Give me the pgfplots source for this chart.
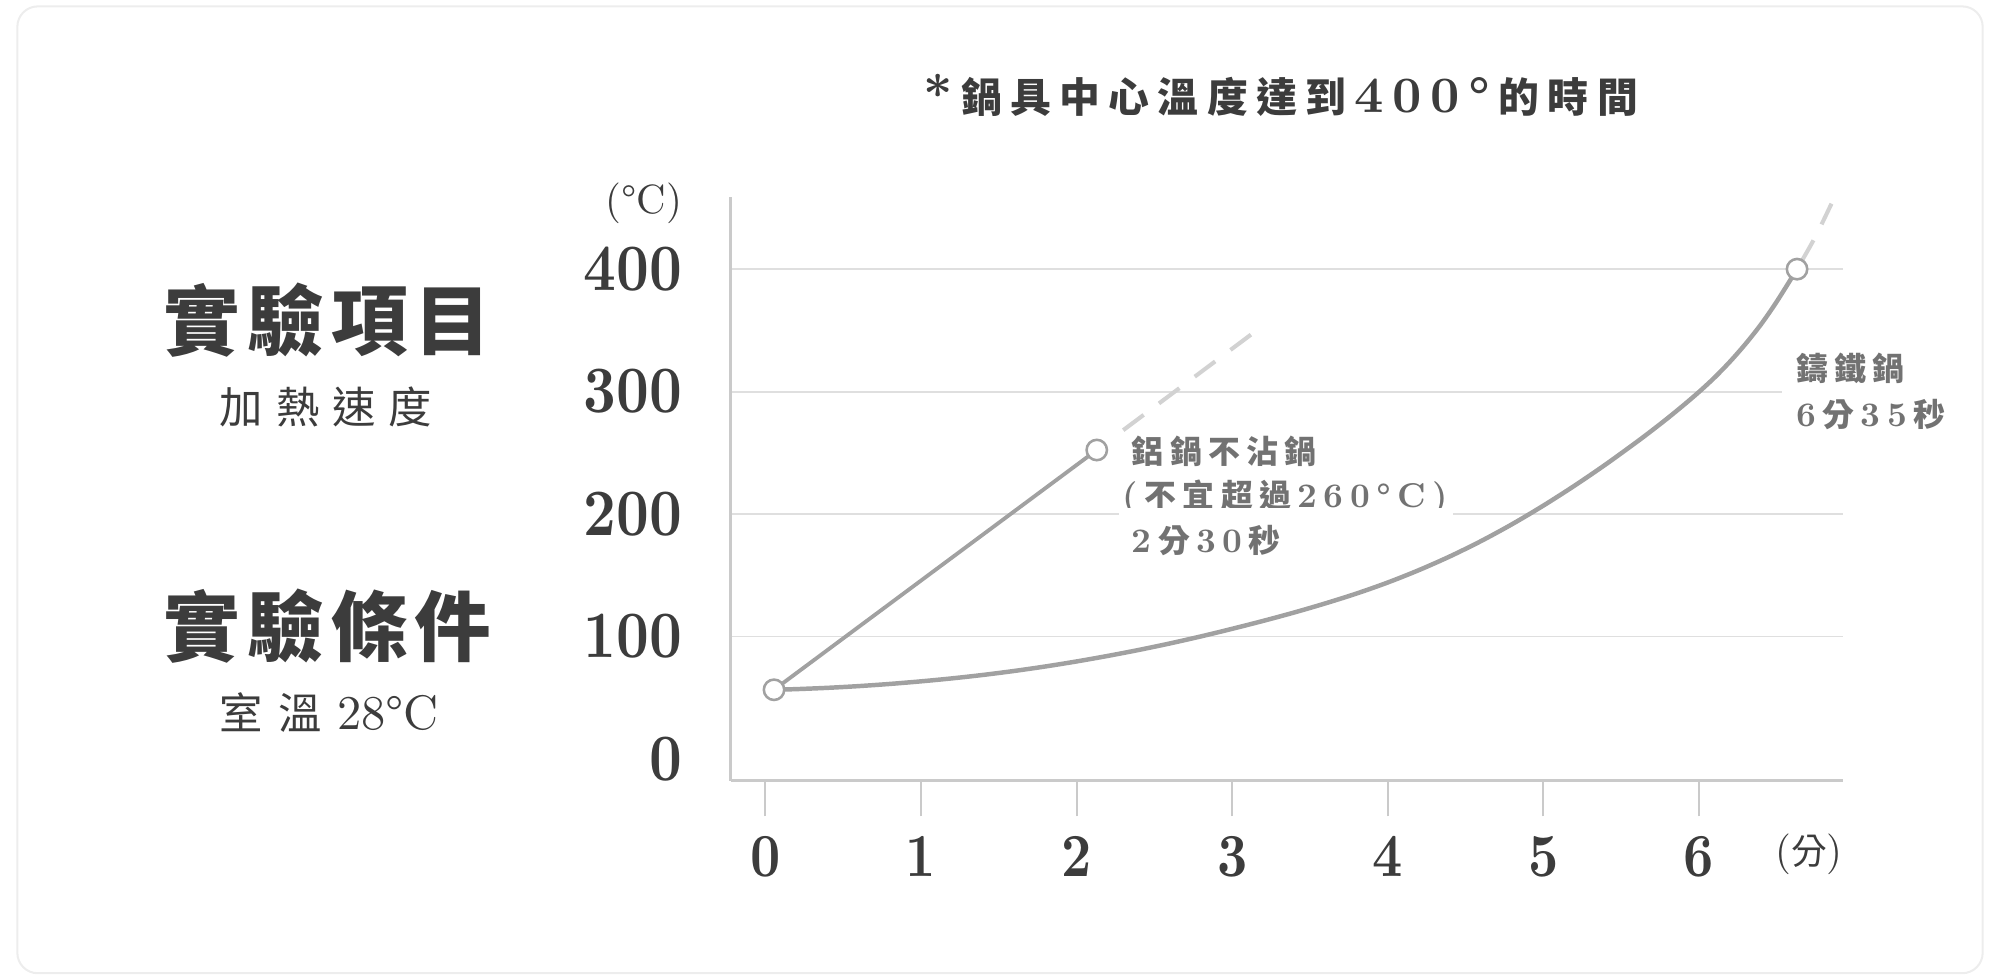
\documentclass[border=0pt]{standalone}
\usepackage{graphicx}
\usepackage{pgfplots}
\pgfplotsset{compat=1.18}
\usepackage{fontspec}
\newfontfamily\cjk{Noto Sans CJK TC}
\newfontfamily\lmb[Extension=.otf,UprightFont=*-bold]{lmroman10}
\newfontfamily\lmr[Extension=.otf,UprightFont=*-regular]{lmroman10}
\definecolor{txt}{HTML}{3C3C3C}
\definecolor{ann}{HTML}{727272}
\definecolor{curvec}{HTML}{A1A1A1}
\definecolor{dashc}{HTML}{D2D2D2}
\definecolor{axisc}{HTML}{CACACA}
\definecolor{gridc}{HTML}{DFDFDF}
\definecolor{framec}{HTML}{EDEDED}
\newcommand\C[1]{{\cjk\bfseries #1}}
\newcommand\Cr[1]{{\cjk #1}}
\newcommand\N[1]{{\lmb #1}}
\newcommand\R[1]{{\lmr #1}}
\def\G{2.5pt}
\newcommand\g{\hspace{\G}}
\newcommand\sx[1]{\scalebox{0.86}[1]{#1}}
\pgfplotstableread{
x y
0.056 56.5
0.2 57.03
0.4 58.08
0.6 59.49
0.8 61.26
1.0 63.37
1.2 65.81
1.4 68.63
1.6 71.87
1.8 75.53
2.0 79.63
2.2 84.13
2.4 89.03
2.6 94.34
2.8 100.1
3.0 106.27
3.2 112.77
3.4 119.65
3.6 127.09
3.8 135.12
4.0 144.11
4.2 154.22
4.4 165.46
4.6 177.97
4.8 191.8
5.0 206.91
5.2 223.16
5.4 240.49
5.6 258.9
5.7 268.5
5.8 278.45
5.9 288.85
6.0 299.75
6.1 311.5
6.2 324.6
6.3 339.1
6.4 355.2
6.5 373.6
6.63 400
}\castiron
\begin{document}
\begin{tikzpicture}
\useasboundingbox (0,0) rectangle (784pt,384pt);
\draw[framec, line width=0.8pt, rounded corners=8pt] (6.8pt,2.5pt) rectangle (777.2pt,381.5pt);
% title
\node[anchor=base, text=txt, inner sep=0pt, font=\fontsize{16pt}{16pt}\selectfont] at (502pt,340pt)
 {\def\G{3.3pt}{\fontsize{20pt}{20pt}\selectfont\N{*}}\g\C{鍋}\g\C{具}\g\C{中}\g\C{心}\g\C{溫}\g\C{度}\g\C{達}\g\C{到}\g{\fontsize{20pt}{20pt}\selectfont\N{4}\g\N{0}\g\N{0}\g\N{°}}\g\C{的}\g\C{時}\g\C{間}};
% left block
\node[anchor=base west, text=txt, inner sep=0pt, font=\fontsize{30pt}{30pt}\selectfont] at (64pt,247.1pt)
 {\def\G{2.8pt}\C{實}\g\C{驗}\g\C{項}\g\C{目}};
\node[anchor=base west, text=txt, inner sep=0pt, font=\fontsize{17pt}{17pt}\selectfont] at (86pt,218pt)
 {\def\G{5pt}\Cr{加}\g\Cr{熱}\g\Cr{速}\g\Cr{度}};
\node[anchor=base west, text=txt, inner sep=0pt, font=\fontsize{30pt}{30pt}\selectfont] at (64pt,127.1pt)
 {\def\G{2.8pt}\C{實}\g\C{驗}\g\C{條}\g\C{件}};
\node[anchor=base west, text=txt, inner sep=0pt, font=\fontsize{17pt}{17pt}\selectfont] at (86pt,98pt)
 {\Cr{室}\hspace{6pt}\Cr{溫}\hspace{6pt}{\fontsize{19pt}{19pt}\selectfont\R{28°C}}};
% units
\node[anchor=base east, text=txt, inner sep=0pt, font=\fontsize{16pt}{16pt}\selectfont] at (267.5pt,300.5pt) {\R{(°C)}};
\node[anchor=base east, text=txt, inner sep=0pt, font=\fontsize{16pt}{16pt}\selectfont] at (722.5pt,45pt) {\R{(}{\fontsize{14pt}{14pt}\selectfont\Cr{分}}\R{)}};
% annotations
\begin{scope}[every node/.style={anchor=base west, text=ann, inner sep=0pt, font=\fontsize{12.5pt}{12.5pt}\selectfont}]
\node at (443.5pt,202.2pt) {\C{鋁}\g\C{鍋}\g\C{不}\g\C{沾}\g\C{鍋}};
\node at (440pt,185.25pt) {\fontsize{13.5pt}{13.5pt}\selectfont\N{(}\g\C{\fontsize{12.5pt}{12.5pt}\selectfont 不}\g\C{\fontsize{12.5pt}{12.5pt}\selectfont 宜}\g\C{\fontsize{12.5pt}{12.5pt}\selectfont 超}\g\C{\fontsize{12.5pt}{12.5pt}\selectfont 過}\g\N{2}\g\N{6}\g\N{0}\g\N{°}\g\N{C}\g\N{)}};
\node at (443.5pt,167.25pt) {\N{\fontsize{13.5pt}{13.5pt}\selectfont 2}\g\C{分}\g\N{\fontsize{13.5pt}{13.5pt}\selectfont 3}\g\N{\fontsize{13.5pt}{13.5pt}\selectfont 0}\g\C{秒}};
\node at (704pt,234.75pt) {\C{鑄}\g\C{鐵}\g\C{鍋}};
\node at (704pt,216.75pt) {\N{\fontsize{13.5pt}{13.5pt}\selectfont 6}\g\C{分}\g\N{\fontsize{13.5pt}{13.5pt}\selectfont 3}\g\N{\fontsize{13.5pt}{13.5pt}\selectfont 5}\g\C{秒}};
\end{scope}
\begin{axis}[
  at={(286.5pt,78pt)}, anchor=south west,
  scale only axis, width=436pt, height=228.7pt,
  xmin=-0.2213, xmax=6.926, ymin=-17.7, ymax=458.75,
  axis x line=bottom, axis y line=left,
  axis line style={draw=axisc, line width=1.1pt, -},
  xtick={0,1,2,3,4,5,6},
  xticklabels={\sx{0},\sx{1},\sx{2},\sx{3},\sx{4},\sx{5},\sx{6}},
  ytick={100,200,300,400},
  yticklabels={\sx{100},\sx{200},\sx{300},\sx{400}},
  extra y ticks={0}, extra y tick labels={\sx{0}},
  extra y tick style={grid=none},
  ymajorgrids, grid style={draw=gridc, line width=0.75pt},
  tick align=outside, major tick length=14pt,
  xtick style={draw=axisc, line width=0.8pt},
  ytick style={draw=none},
  xticklabel style={font=\fontsize{24pt}{24pt}\selectfont\lmb, text=txt, inner sep=0pt, anchor=north, yshift=-7.5pt},
  yticklabel style={font=\fontsize{26pt}{26pt}\selectfont\lmb, text=txt, inner sep=0pt, anchor=east, xshift=-5pt},
  clip=false,
]
\fill[white] (axis cs:2.27,195) rectangle (axis cs:4.418,205);
\fill[white] (axis cs:6.533,295) rectangle (axis cs:6.95,305);
% cast iron pan
\addplot[curvec, line width=1.75pt, smooth, tension=0.5] table[x=x,y=y] {\castiron};
% aluminium non-stick pan
\addplot[curvec, line width=1.5pt] coordinates {(0.056,56.5) (2.13,252.3)};
\addplot[dashc, line width=1.6pt, dash pattern=on 10pt off 7.5pt] coordinates {(2.30,268.5) (3.15,349.3)};
\addplot[dashc, line width=1.6pt, smooth, dash pattern=on 9pt off 7pt, dash phase=12pt] coordinates {(6.63,400) (6.75,427) (6.868,458)};
\addplot[only marks, mark=*, mark size=4pt, mark options={fill=white, draw=curvec, line width=1pt}] coordinates {(0.056,56.5) (2.13,252.3) (6.63,400)};
\end{axis}
\end{tikzpicture}
\end{document}
